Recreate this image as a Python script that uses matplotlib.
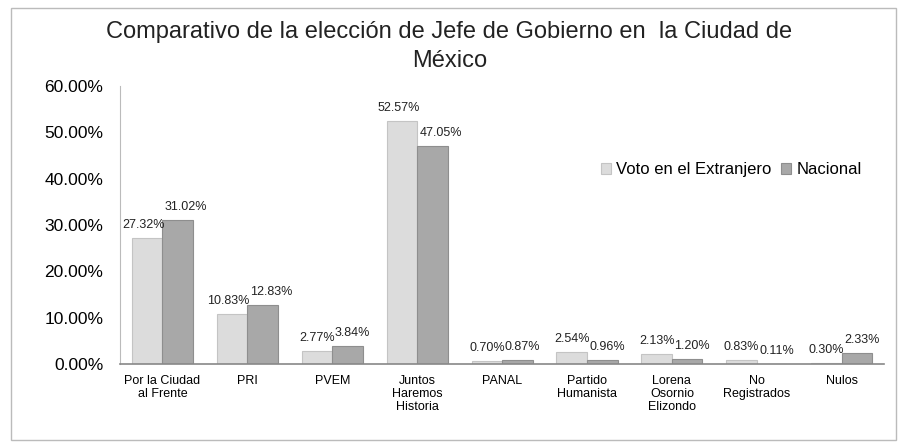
import matplotlib.pyplot as plt
import numpy as np
from matplotlib.patches import Rectangle

plt.rcParams['font.family'] = ['Liberation Sans', 'DejaVu Sans']

# datos
categorias = ['Por la Ciudad\nal Frente', 'PRI', 'PVEM', 'Juntos\nHaremos\nHistoria', 'PANAL',
              'Partido\nHumanista', 'Lorena\nOsornio\nElizondo', 'No\nRegistrados', 'Nulos']
extranjero = [27.32, 10.83, 2.77, 52.57, 0.70, 2.54, 2.13, 0.83, 0.30]
nacional = [31.02, 12.83, 3.84, 47.05, 0.87, 0.96, 1.20, 0.11, 2.33]
etiquetas_y = ['0.00%', '10.00%', '20.00%', '30.00%', '40.00%', '50.00%', '60.00%']

fig = plt.figure(figsize=(8.99, 4.44), dpi=100)
ax = fig.add_axes([0.1335, 0.18, 0.85, 0.626])

x = np.arange(len(categorias))
w = 0.36
ax.bar(x - w/2, extranjero, w, color='#dcdcdc', edgecolor='#c4c4c4', linewidth=0.8, label='Voto en el Extranjero')
ax.bar(x + w/2, nacional, w, color='#a8a8a8', edgecolor='#8e8e8e', linewidth=0.8, label='Nacional')

for i in range(len(categorias)):
    ax.text(x[i] + 0.03, extranjero[i] + 1.5, f'{extranjero[i]:.2f}%', ha='right', va='bottom', fontsize=9, color='#222222')
    ax.text(x[i] + 0.03, nacional[i] + 1.5, f'{nacional[i]:.2f}%', ha='left', va='bottom', fontsize=9, color='#222222')

ax.set_xlim(-0.5, len(categorias) - 0.5)
ax.set_ylim(0, 60)
ax.set_yticks(np.arange(0, 61, 10))
ax.set_yticklabels(etiquetas_y, fontsize=12.5)
ax.set_xticks(x)
ax.set_xticklabels(categorias, fontsize=9, linespacing=1.1)
ax.tick_params(axis='y', length=0, pad=12)
ax.tick_params(axis='x', length=0, pad=8)
for s in ['top', 'right']:
    ax.spines[s].set_visible(False)
ax.spines['left'].set_color('#bbbbbb')
ax.spines['bottom'].set_color('#888888')
ax.spines['bottom'].set_linewidth(1.2)

ax.legend(loc='upper right', bbox_to_anchor=(0.99, 0.78), ncol=2, frameon=False, fontsize=12,
          handlelength=0.6, handleheight=0.6, columnspacing=0.6, handletextpad=0.3)

fig.text(0.5, 0.896, 'Comparativo de la elección de Jefe de Gobierno en  la Ciudad de\nMéxico',
         ha='center', va='center', fontsize=17, color='#222222', linespacing=1.4)

fig.add_artist(Rectangle((0.012, 0.01), 0.985, 0.972, transform=fig.transFigure,
                         fill=False, edgecolor='#bbbbbb', linewidth=1))

fig.savefig('out.png', dpi=100)
